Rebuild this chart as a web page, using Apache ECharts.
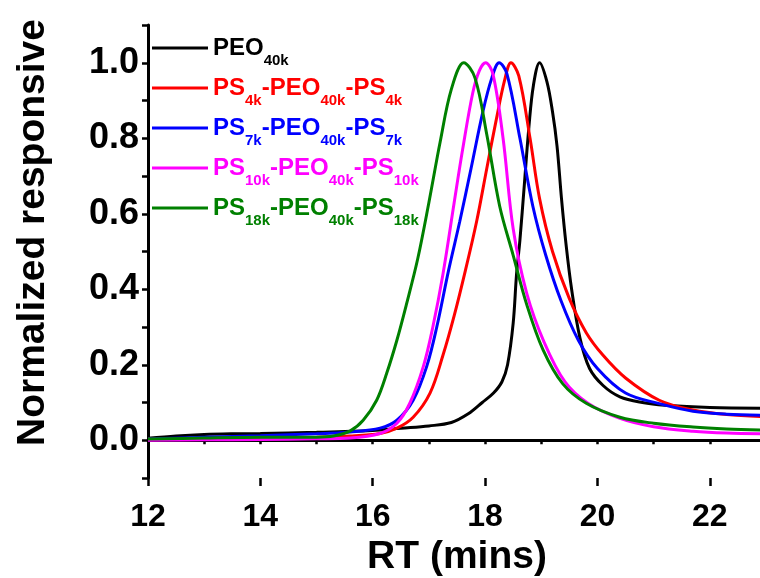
<!DOCTYPE html>
<html lang="en">
<head>
    <meta charset="UTF-8">
    <title>GPC traces</title>
    <script src="https://cdn.jsdelivr.net/npm/echarts@6/dist/echarts.min.js"></script>
</head>
<body style="margin:0">
    <div id="main" style="width: 760px;height:578px;"></div>
    <script type="text/javascript">
        // retention time (min) and normalized response
        var peoRT = [12, 12.5, 13, 13.5, 14, 15, 16, 16.5, 17, 17.4, 17.7, 17.95, 18.15, 18.3, 18.4, 18.5, 18.56, 18.62, 18.7, 18.78, 18.86, 18.97, 19.1, 19.2, 19.28, 19.36, 19.44, 19.54, 19.69, 19.86, 20.1, 20.4, 20.8, 21.2, 22, 23];
        var peoVal = [0.005, 0.011, 0.015, 0.017, 0.018, 0.021, 0.026, 0.032, 0.038, 0.047, 0.07, 0.1, 0.125, 0.155, 0.2, 0.31, 0.44, 0.53, 0.68, 0.83, 0.94, 1.0, 0.95, 0.87, 0.78, 0.64, 0.52, 0.4, 0.27, 0.19, 0.145, 0.115, 0.1, 0.093, 0.087, 0.085];

        var ps4RT = [12, 13, 14, 15, 15.6, 16.13, 16.43, 16.72, 17.02, 17.25, 17.45, 17.65, 17.85, 18.03, 18.2, 18.35, 18.46, 18.6, 18.8, 18.97, 19.2, 19.5, 19.8, 20.1, 20.5, 21.1, 21.7, 22.3, 23];
        var ps4Val = [0.003, 0.005, 0.006, 0.008, 0.011, 0.018, 0.032, 0.061, 0.125, 0.225, 0.33, 0.45, 0.58, 0.72, 0.85, 0.955, 1.0, 0.965, 0.8, 0.64, 0.5, 0.375, 0.285, 0.225, 0.165, 0.106, 0.08, 0.068, 0.062];

        var ps7RT = [12, 13, 14, 15, 15.6, 16.13, 16.43, 16.72, 16.96, 17.14, 17.35, 17.55, 17.75, 17.96, 18.12, 18.25, 18.39, 18.62, 18.85, 19.08, 19.35, 19.66, 20, 20.5, 21.1, 21.7, 22.3, 23];
        var ps7Val = [0.003, 0.008, 0.012, 0.017, 0.022, 0.032, 0.053, 0.106, 0.195, 0.3, 0.45, 0.58, 0.72, 0.87, 0.96, 1.0, 0.97, 0.8, 0.62, 0.49, 0.37, 0.265, 0.19, 0.125, 0.097, 0.077, 0.069, 0.066];

        var ps10RT = [12, 13, 14, 15, 15.6, 16.13, 16.43, 16.66, 16.9, 17.07, 17.25, 17.45, 17.6, 17.78, 17.9, 18.01, 18.14, 18.32, 18.5, 18.74, 19.05, 19.42, 19.83, 20.4, 21, 21.7, 22.3, 23];
        var ps10Val = [0.0, 0.001, 0.002, 0.004, 0.006, 0.018, 0.045, 0.098, 0.195, 0.3, 0.44, 0.63, 0.77, 0.92, 0.98, 1.0, 0.97, 0.8, 0.56, 0.39, 0.26, 0.155, 0.098, 0.058, 0.036, 0.024, 0.019, 0.017];

        var ps18RT = [12, 13, 14, 15, 15.3, 15.6, 15.83, 16.07, 16.25, 16.43, 16.6, 16.8, 17, 17.2, 17.4, 17.62, 17.82, 18.03, 18.26, 18.5, 18.74, 19.03, 19.38, 19.8, 20.4, 21, 21.7, 22.3, 23];
        var ps18Val = [0.003, 0.006, 0.008, 0.008, 0.011, 0.025, 0.053, 0.106, 0.178, 0.265, 0.36, 0.48, 0.63, 0.79, 0.93, 1.0, 0.96, 0.81, 0.62, 0.49, 0.36, 0.24, 0.15, 0.098, 0.061, 0.045, 0.035, 0.03, 0.027];

        var names = ['PEO40k', 'PS4k-PEO40k-PS4k', 'PS7k-PEO40k-PS7k', 'PS10k-PEO40k-PS10k', 'PS18k-PEO40k-PS18k'];
        // legend text with subscripts
        var labels = {
            'PEO40k': '{m|PEO}{s|40k}',
            'PS4k-PEO40k-PS4k': '{m|PS}{s|4k}{m|-PEO}{s|40k}{m|-PS}{s|4k}',
            'PS7k-PEO40k-PS7k': '{m|PS}{s|7k}{m|-PEO}{s|40k}{m|-PS}{s|7k}',
            'PS10k-PEO40k-PS10k': '{m|PS}{s|10k}{m|-PEO}{s|40k}{m|-PS}{s|10k}',
            'PS18k-PEO40k-PS18k': '{m|PS}{s|18k}{m|-PEO}{s|40k}{m|-PS}{s|18k}'
        };
        var colors = ['#000000', '#ff0000', '#0000ff', '#ff00ff', '#008000'];
        var xs = [peoRT, ps4RT, ps7RT, ps10RT, ps18RT];
        var ys = [peoVal, ps4Val, ps7Val, ps10Val, ps18Val];

        var font = '"Liberation Sans", Arial, sans-serif';

        function zip(a, b) {
            return a.map(function (v, i) { return [v, b[i]]; });
        }

        var myChart = echarts.init(document.getElementById('main'));

        var option = {
            animation: false,
            backgroundColor: '#ffffff',
            grid: { left: 148, right: -6, top: 25, bottom: 100, outerBoundsMode: 'none', containLabel: false },
            legend: {
                left: 152,
                top: 36,
                orient: 'vertical',
                padding: 0,
                itemGap: 8,
                itemWidth: 56,
                itemHeight: 3,
                icon: 'rect',
                data: names.map(function (n, i) {
                    return { name: n, textStyle: { color: colors[i] } };
                }),
                formatter: function (n) { return labels[n]; },
                textStyle: {
                    fontFamily: font,
                    rich: {
                        m: { fontSize: 24, fontWeight: 'bold', fontFamily: font },
                        s: { fontSize: 15, fontWeight: 'bold', fontFamily: font, padding: [25, 0, 0, 0] }
                    }
                }
            },
            xAxis: [
                {
                    type: 'value',
                    min: 12, max: 23, interval: 1,
                    name: 'RT (mins)',
                    nameLocation: 'middle',
                    nameGap: 56,
                    nameTextStyle: { fontSize: 39, fontWeight: 'bold', fontFamily: font, color: '#000' },
                    splitLine: { show: false },
                    axisLine: { lineStyle: { color: '#000', width: 3 } },
                    axisTick: { length: 4, lineStyle: { color: '#000', width: 2.5 } },
                    axisLabel: {
                        margin: 23,
                        fontSize: 32, fontWeight: 'bold', fontFamily: font, color: '#000',
                        formatter: function (v) { return v % 2 === 0 ? String(v) : ''; }
                    }
                },
                {
                    type: 'value',
                    position: 'bottom',
                    min: 12, max: 23, interval: 2,
                    splitLine: { show: false },
                    axisLine: { show: false },
                    axisTick: { length: 8, lineStyle: { color: '#000', width: 2.5 } },
                    axisLabel: { show: false }
                }
            ],
            yAxis: {
                type: 'value',
                min: -0.1, max: 1.1, interval: 0.1,
                name: 'Normalized responsive',
                nameLocation: 'middle',
                nameGap: 95,
                nameTextStyle: { fontSize: 39, fontWeight: 'bold', fontFamily: font, color: '#000', padding: [0, 0, 0, 38] },
                splitLine: { show: false },
                axisLine: { show: true, lineStyle: { color: '#000', width: 3 } },
                axisTick: { show: true, length: 6, lineStyle: { color: '#000', width: 2.5 } },
                axisLabel: {
                    margin: 9,
                    fontSize: 36, fontWeight: 'bold', fontFamily: font, color: '#000',
                    formatter: function (v) {
                        var r = Math.round(v * 10);
                        return (r >= 0 && r <= 10 && r % 2 === 0) ? (r / 10).toFixed(1) : '';
                    }
                }
            },
            series: names.map(function (n, i) {
                return {
                    name: n,
                    type: 'line',
                    xAxisIndex: 0,
                    symbol: 'none',
                    smooth: 0.35,
                    color: colors[i],
                    lineStyle: { color: colors[i], width: 3 },
                    data: zip(xs[i], ys[i])
                };
            })
        };

        myChart.setOption(option);
    </script>
</body>
</html>
